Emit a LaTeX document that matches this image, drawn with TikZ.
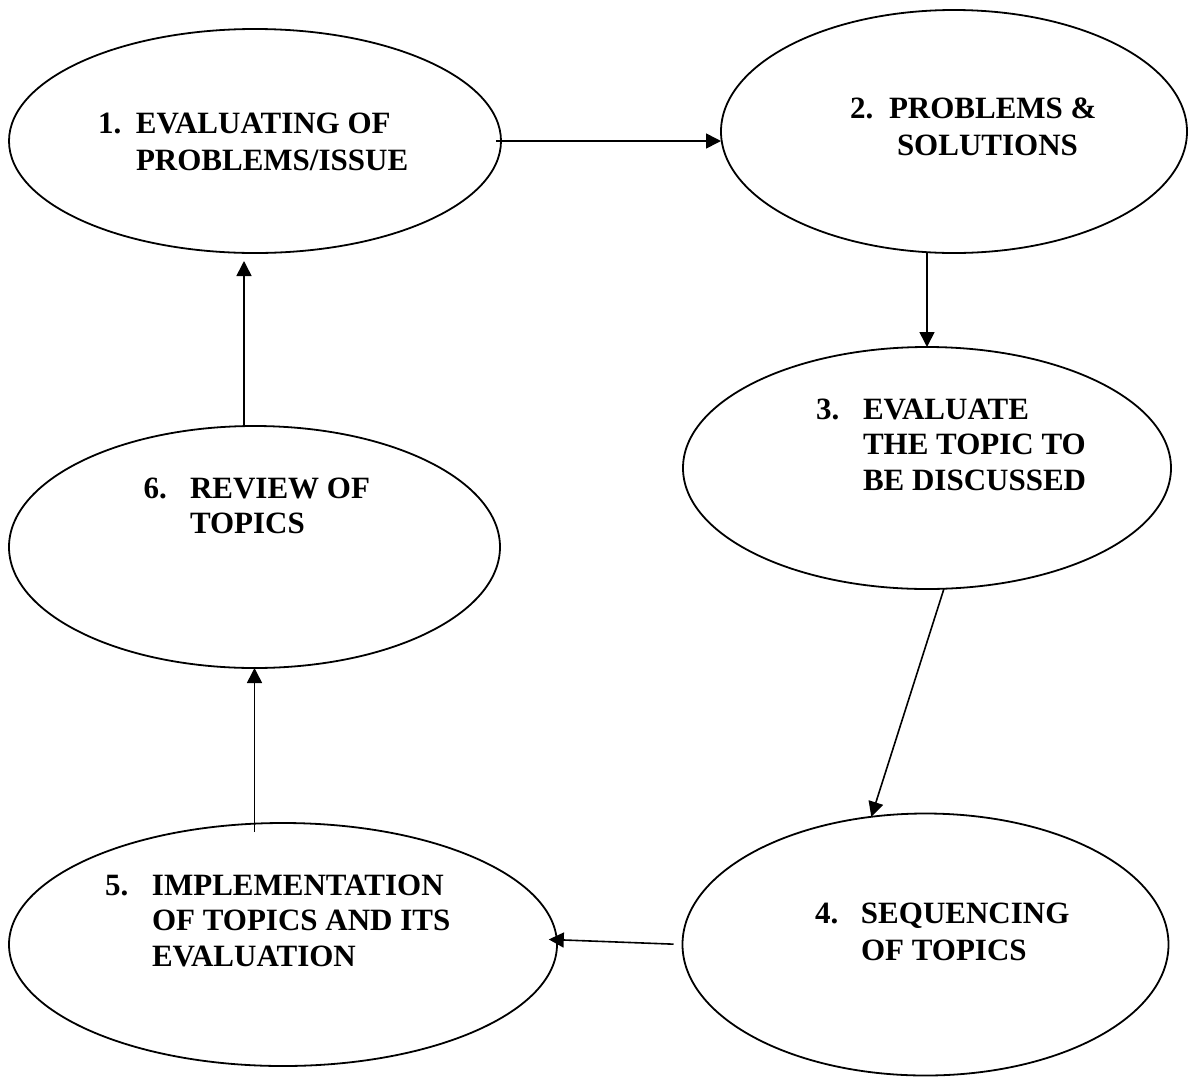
\documentclass[tikz,border=0pt]{standalone}
\usepackage{fontspec}
\setmainfont{Liberation Serif}
\usetikzlibrary{shapes.geometric,arrows.meta,calc}

\begin{document}
\begin{tikzpicture}[x=1pt,y=-1pt,
  stage/.style={draw, ellipse, line width=1.8pt, inner sep=0pt, outer sep=0pt},
  lbl/.style={anchor=base west, inner sep=0pt, outer sep=0pt,
    font=\fontsize{31}{37}\selectfont\bfseries},
  lbltight/.style={lbl, font=\fontsize{31}{35.5}\selectfont\bfseries},
  flow/.style={line width=1.6pt, -{Triangle[length=15pt,width=15pt]}}
]
\useasboundingbox (0,0) rectangle (1189,1077);

% the six stages of the cycle
\node[stage, minimum width=492pt, minimum height=224pt] (e1) at (255,141) {};
\node[stage, minimum width=466pt, minimum height=243pt] (e2) at (954,131.5) {};
\node[stage, minimum width=488pt, minimum height=242pt] (e3) at (927,468) {};
\node[stage, minimum width=486pt, minimum height=262pt] (e4) at (925.5,944.5) {};
\node[stage, minimum width=548pt, minimum height=243pt] (e5) at (283,944.5) {};
\node[stage, minimum width=491pt, minimum height=242pt] (e6) at (254.5,547) {};

% stage captions, numbered with a hanging indent
\node[lbl] (t1) at (98,133)
  {\begin{tabular}[t]{@{}p{38pt}@{}l@{}}1.&EVALUATING OF\\&PROBLEMS/ISSUE\end{tabular}};
\node[lbl] (t2) at (850,118)
  {\begin{tabular}[t]{@{}p{39pt}@{}l@{}}2.&PROBLEMS \&\\&\hspace{8pt}SOLUTIONS\end{tabular}};
\node[lbltight] (t3) at (816,419)
  {\begin{tabular}[t]{@{}p{47pt}@{}l@{}}3.&EVALUATE\\&THE TOPIC TO\\&BE DISCUSSED\end{tabular}};
\node[lbl] (t4) at (815,923)
  {\begin{tabular}[t]{@{}p{46pt}@{}l@{}}4.&SEQUENCING\\&OF TOPICS\end{tabular}};
\node[lbltight] (t5) at (105,895)
  {\begin{tabular}[t]{@{}p{47pt}@{}l@{}}5.&IMPLEMENTATION\\&OF TOPICS AND ITS\\&EVALUATION\end{tabular}};
\node[lbltight] (t6) at (143.5,498)
  {\begin{tabular}[t]{@{}p{46.5pt}@{}l@{}}6.&REVIEW OF\\&TOPICS\end{tabular}};

% connectors
\draw[flow, shorten <=-5pt] (e1.east) -- (e1.east -| e2.west);
\draw[flow] (e2.south -| e3.north) -- (e3.north);
\draw[flow] (e3.-82) -- (e4.113);
\draw[flow, shorten <=9pt, shorten >=-8pt] (e4.west) -- (e5.1);
\draw[flow, shorten <=-9pt] (e6.south |- e5.north) -- (e6.south);
\coordinate (c61) at ($(e6.north)+(-10.5,0)$);
\draw[flow, shorten >=8pt] (c61) -- (c61 |- e1.south);
\end{tikzpicture}
\end{document}
